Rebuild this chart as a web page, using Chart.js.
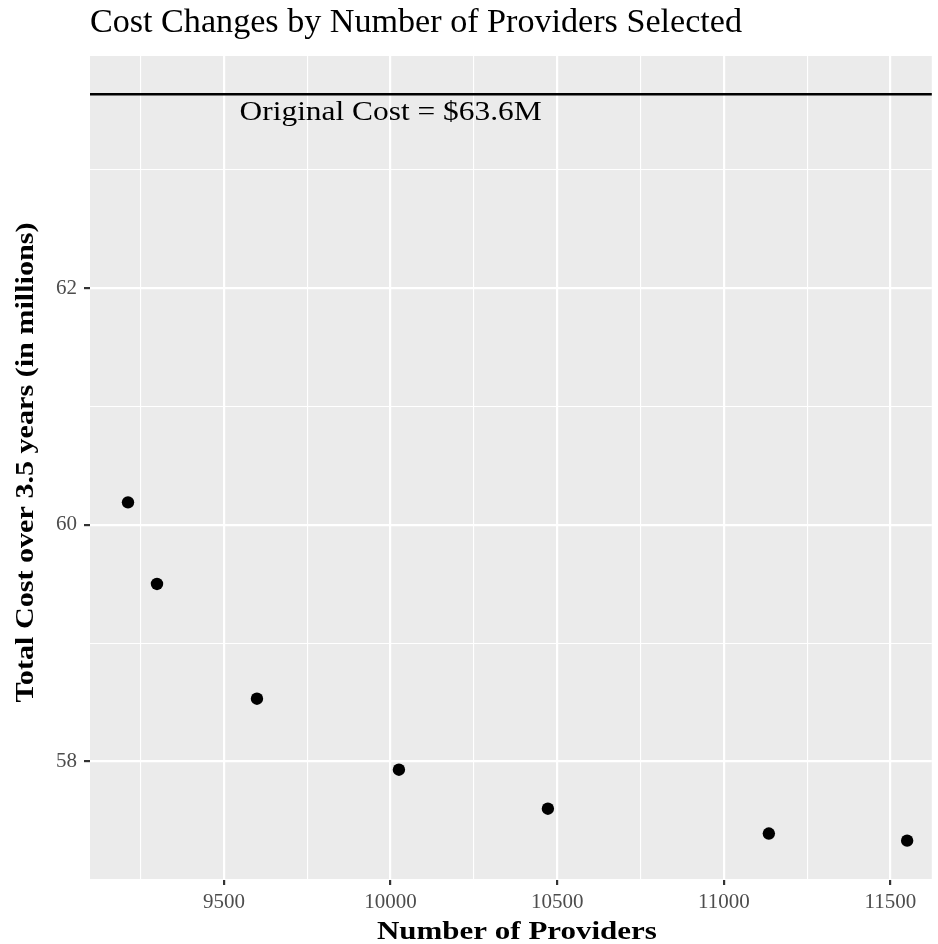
<!DOCTYPE html>
<html><head><meta charset="utf-8">
<script src="https://cdn.jsdelivr.net/npm/chart.js@4.4.1/dist/chart.umd.min.js"></script>
<style>html,body{margin:0;padding:0;background:#fff;overflow:hidden}</style>
</head><body><canvas id="c" width="938" height="944"></canvas>
<script>
const providers = [9212, 9299, 9599, 10025, 10472, 11135, 11550];
const totalCost = [60.19, 59.50, 58.53, 57.93, 57.60, 57.39, 57.33];
const originalCost = 63.64;
const originalCostLabel = 'Original Cost = $63.6M';
const labelAt = [10000, 63.5];
const xTicks = [9250, 9500, 9750, 10000, 10250, 10500, 10750, 11000, 11250, 11500];
const xMajor = [9500, 10000, 10500, 11000, 11500];
const yTicks = [57, 58, 59, 60, 61, 62, 63];
const yMajor = [58, 60, 62];
const xRange = [9098, 11624];
const yRange = [57.006, 63.963];
const titleText = 'Cost Changes by Number of Providers Selected';
const xTitle = 'Number of Providers';
const yTitle = 'Total Cost over 3.5 years (in millions)';

const SERIF = "'Liberation Serif', 'Times New Roman', serif";

function fitText(ctx, text, x, y, font, width, align, rot) {
  ctx.save();
  ctx.font = font;
  const w = ctx.measureText(text).width;
  ctx.translate(x, y);
  if (rot) ctx.rotate(rot);
  ctx.scale(width / w, 1);
  ctx.textAlign = align;
  ctx.textBaseline = 'alphabetic';
  ctx.fillStyle = '#000';
  ctx.fillText(text, 0, 0);
  ctx.restore();
}

const ggPlugin = {
  id: 'gg',
  beforeDraw(chart) {
    const {ctx, chartArea: a} = chart;
    ctx.save();
    ctx.fillStyle = '#FFFFFF';
    ctx.fillRect(0, 0, chart.width, chart.height);
    ctx.fillStyle = '#EBEBEB';
    ctx.fillRect(a.left, a.top, a.right - a.left, a.bottom - a.top);
    ctx.restore();
  },
  beforeDatasetsDraw(chart) {
    const {ctx, chartArea: a, scales} = chart;
    const y = scales.y.getPixelForValue(originalCost);
    ctx.save();
    ctx.strokeStyle = '#000';
    ctx.lineWidth = 2.5;
    ctx.beginPath();
    ctx.moveTo(a.left, y);
    ctx.lineTo(a.right, y);
    ctx.stroke();
    ctx.restore();
  },
  afterDraw(chart) {
    const {ctx, chartArea: a, scales} = chart;
    fitText(ctx, titleText, a.left, 32, '33px ' + SERIF, 652, 'left');
    const lx = scales.x.getPixelForValue(labelAt[0]);
    const ly = scales.y.getPixelForValue(labelAt[1]);
    fitText(ctx, originalCostLabel, lx, ly + 9, '27px ' + SERIF, 302, 'center');
    fitText(ctx, xTitle, (a.left + a.right) / 2 + 6, 939, 'bold 26px ' + SERIF, 280, 'center');
    fitText(ctx, yTitle, 33, (a.top + a.bottom) / 2 - 5, 'bold 26px ' + SERIF, 480, 'center', -Math.PI / 2);
  }
};

function gridOpts(major) {
  return {
    color: '#FFFFFF',
    lineWidth: c => (c.tick && major.includes(c.tick.value)) ? 2.2 : 1.1,
    tickColor: c => (c.tick && major.includes(c.tick.value)) ? '#333333' : 'rgba(0,0,0,0)',
    tickWidth: 2.2,
    tickLength: 6,
    drawTicks: true
  };
}

new Chart(document.getElementById('c'), {
  type: 'scatter',
  data: {
    datasets: [{
      data: providers.map((p, i) => ({x: p, y: totalCost[i]})),
      backgroundColor: '#000',
      borderColor: '#000',
      borderWidth: 0,
      pointRadius: 6.2,
      pointHoverRadius: 6.2
    }]
  },
  options: {
    responsive: false,
    animation: false,
    events: [],
    layout: {padding: {top: 56, right: 6, left: 0, bottom: 0}},
    plugins: {legend: {display: false}, tooltip: {enabled: false}, title: {display: false}},
    scales: {
      x: {
        type: 'linear', min: xRange[0], max: xRange[1],
        afterBuildTicks: s => { s.ticks = xTicks.map(v => ({value: v})); },
        afterFit: s => { s.height = 65; },
        border: {display: false},
        grid: gridOpts(xMajor),
        ticks: {
          autoSkip: false, maxRotation: 0, padding: 5,
          color: '#4D4D4D', font: {family: SERIF, size: 21},
          callback: v => xMajor.includes(v) ? String(v) : ''
        }
      },
      y: {
        type: 'linear', min: yRange[0], max: yRange[1],
        afterBuildTicks: s => { s.ticks = yTicks.map(v => ({value: v})); },
        afterFit: s => { s.width = 90; },
        border: {display: false},
        grid: gridOpts(yMajor),
        ticks: {
          autoSkip: false, padding: 7,
          color: '#4D4D4D', font: {family: SERIF, size: 21},
          callback: v => yMajor.includes(v) ? String(v) : ''
        }
      }
    }
  },
  plugins: [ggPlugin]
});
</script></body></html>
